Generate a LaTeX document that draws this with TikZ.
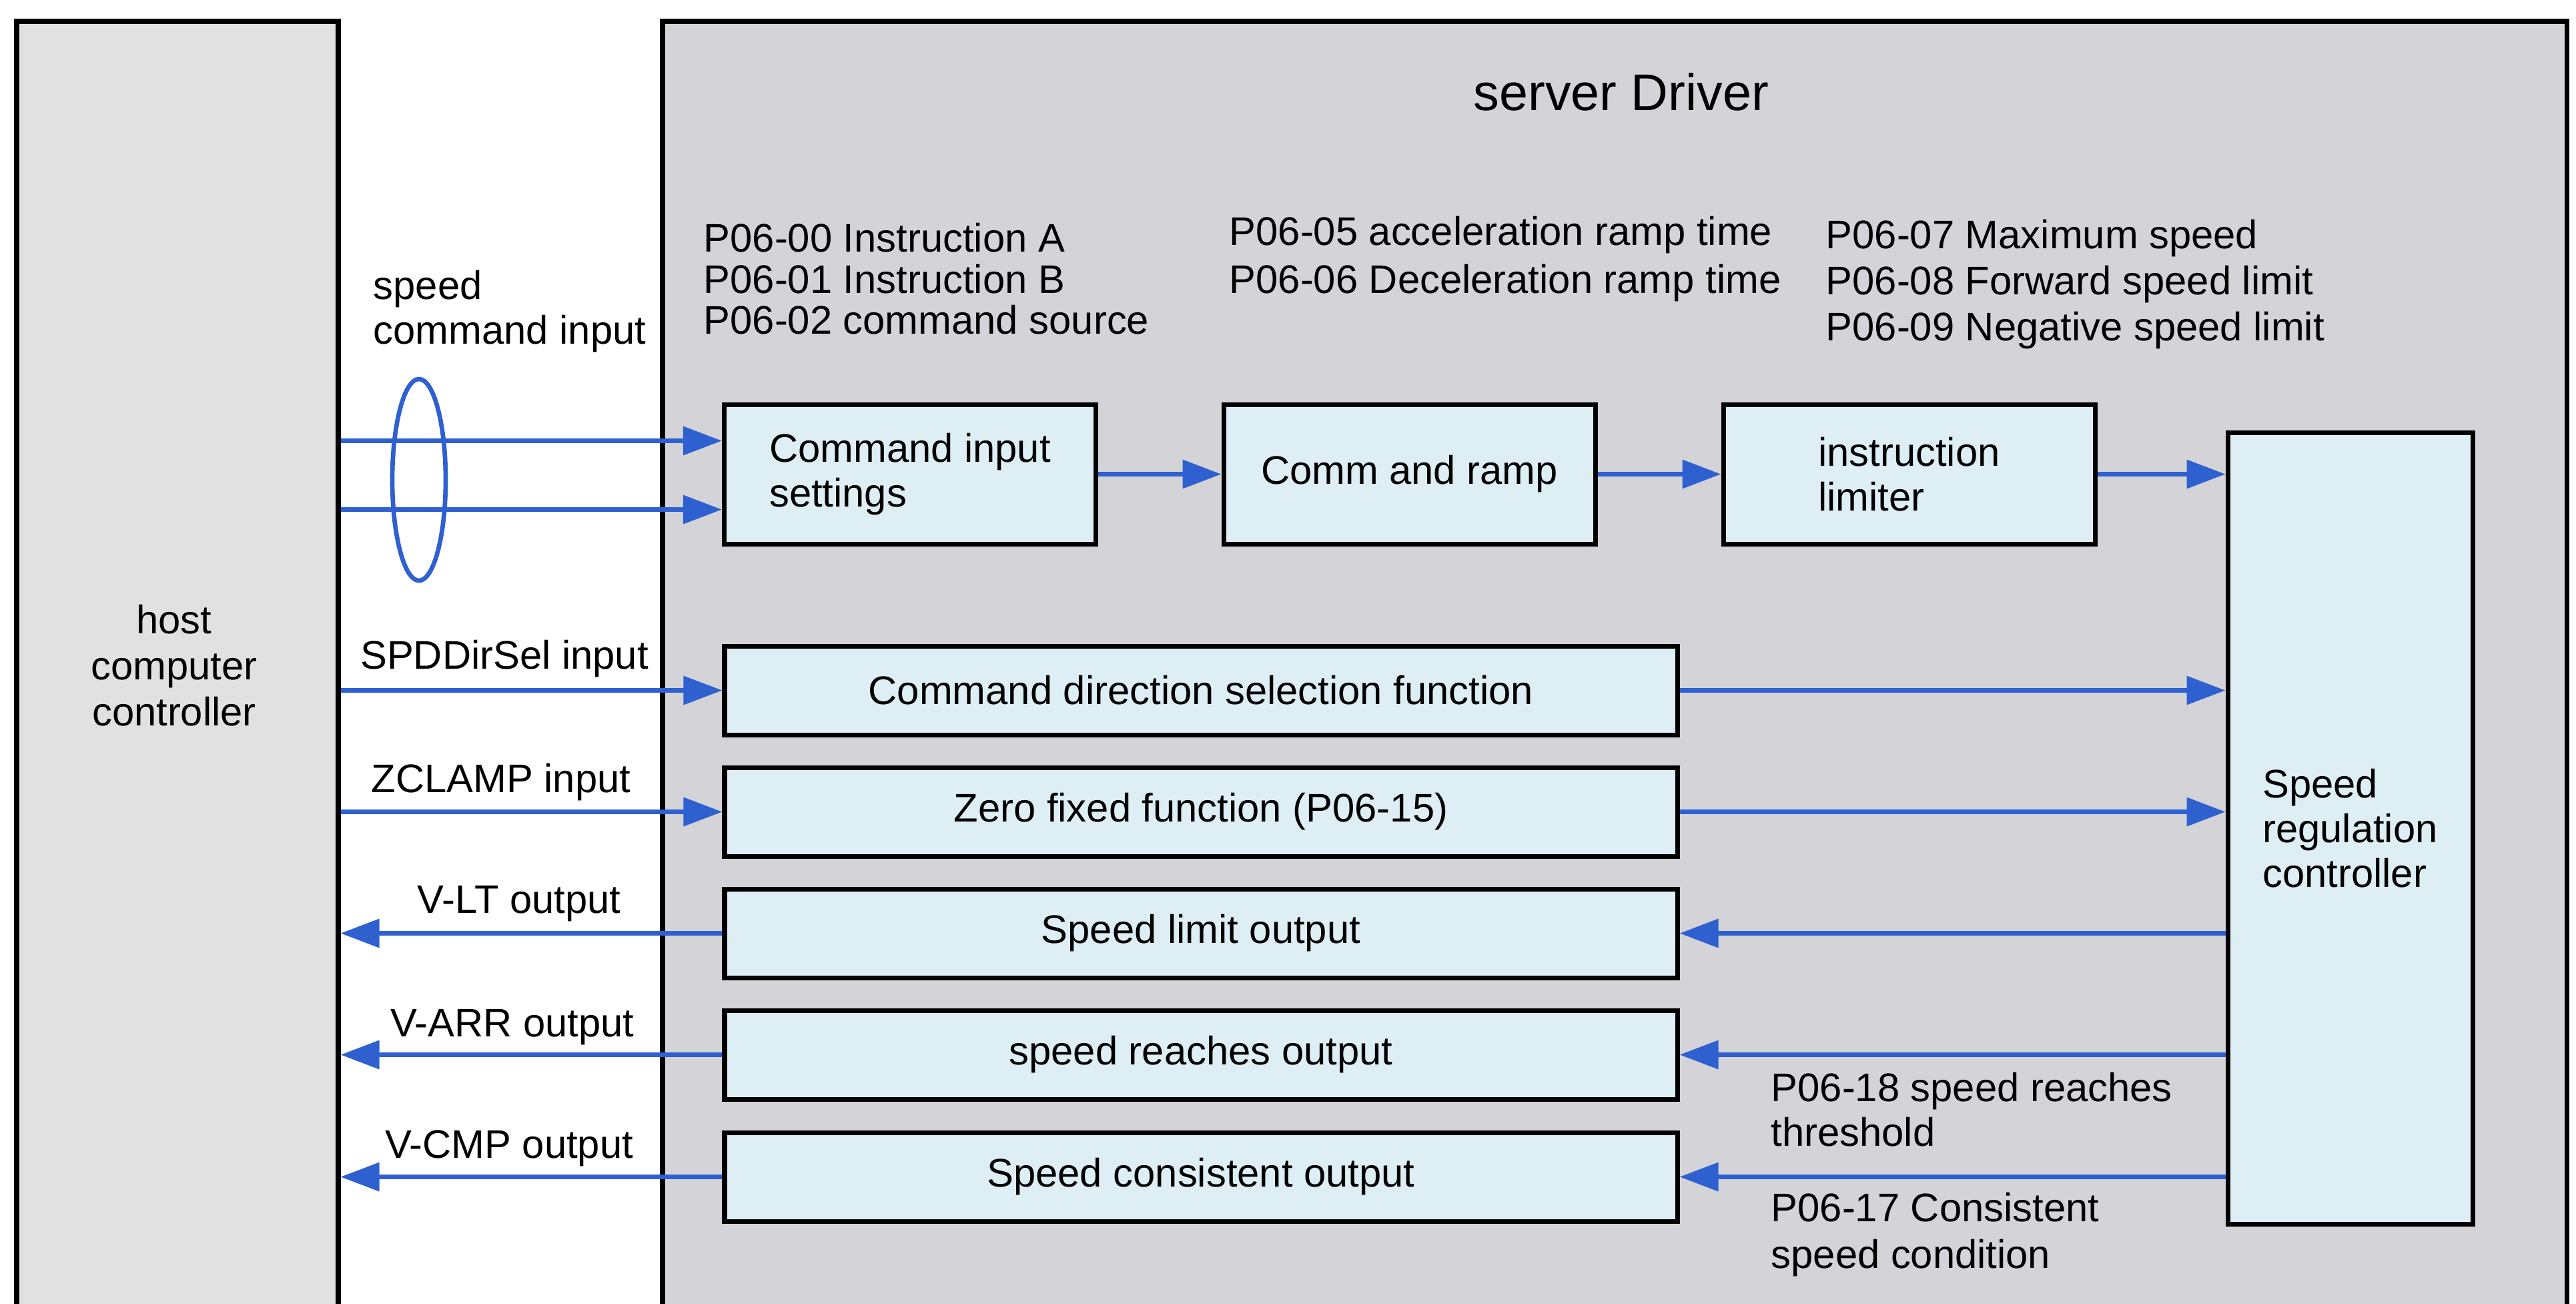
\documentclass[tikz,border=0pt]{standalone}
\usepackage{fontspec}
\setmainfont{Liberation Sans}
\usetikzlibrary{arrows.meta,shapes.geometric}
\definecolor{arrblue}{RGB}{46,96,208}
\definecolor{boxfill}{RGB}{221,238,244}
\definecolor{drvfill}{RGB}{212,212,216}
\definecolor{hostfill}{RGB}{225,225,225}
\begin{document}
\begin{tikzpicture}[
  font=\fontsize{17}{19}\selectfont,
  frame/.style={draw=black, line width=2pt, inner sep=0pt, minimum height=19.7cm},
  blk/.style={draw=black, line width=2pt, fill=boxfill, align=left, inner sep=0pt},
  rowbox/.style={blk, minimum width=14.28cm, minimum height=1.33cm},
  topbox/.style={blk, minimum width=5.57cm, minimum height=2.09cm},
  arr/.style={draw=arrblue, line width=1.9pt, -{Triangle[length=0.58cm,width=0.42cm]}},
  lbl/.style={align=left, inner sep=0pt},
]
\path[use as bounding box] (0,0) rectangle (38.61,-19.53);
\begin{scope}
\clip (0,0) rectangle (38.61,-19.53);
\node[frame, fill=hostfill, minimum width=4.82cm] (host) at (2.66,-10.17) {};
\node[frame, fill=drvfill, minimum width=28.54cm] (drv) at (24.20,-10.17) {};
\end{scope}

\node (title) at (24.30,-1.38) {\fontsize{22}{26}\selectfont server Driver};
\node[align=center, font=\fontsize{17}{19.6}\selectfont] (hostlbl) at (2.61,-9.97) {host\\computer\\controller};

% top chain
\node[topbox] (cis) at (13.64,-7.105) {Command input\\settings};
\node[topbox] (ramp) at (21.125,-7.105) {Comm and ramp};
\node[topbox] (lim) at (28.615,-7.105) {instruction\\limiter};
\node[blk, minimum width=3.67cm, minimum height=11.86cm] (src) at (35.225,-12.41) {Speed\\regulation\\controller};

% rows
\node[rowbox] (dir) at (18.00,-10.345) {Command direction selection function};
\node[rowbox] (zero) at (18.00,-12.165) {Zero fixed function (P06-15)};
\node[rowbox] (vlt) at (18.00,-13.985) {Speed limit output};
\node[rowbox] (varr) at (18.00,-15.805) {speed reaches output};
\node[rowbox] (vcmp) at (18.00,-17.635) {Speed consistent output};

% ellipse
\node[draw=arrblue, line width=1.9pt, ellipse, minimum width=0.8cm, minimum height=3.02cm, inner sep=0pt] (ell) at (6.28,-7.19) {};

% connectors
\coordinate (in1) at ([yshift=0.5cm]cis.west);
\coordinate (in2) at ([yshift=-0.53cm]cis.west);
\draw[arr] (host.east |- in1) -- (in1);
\draw[arr] (host.east |- in2) -- (in2);
\draw[arr] (cis.east) -- (ramp.west);
\draw[arr] (ramp.east) -- (lim.west);
\draw[arr] (lim.east) -- (lim.east -| src.west);
\draw[arr] (host.east |- dir.west) -- (dir.west);
\draw[arr] (host.east |- zero.west) -- (zero.west);
\draw[arr] (dir.east) -- (dir.east -| src.west);
\draw[arr] (zero.east) -- (zero.east -| src.west);
\draw[arr] (src.west |- vlt.east) -- (vlt.east);
\draw[arr] (src.west |- varr.east) -- (varr.east);
\draw[arr] (src.west |- vcmp.east) -- (vcmp.east);
\draw[arr] (vlt.west) -- (vlt.west -| host.east);
\draw[arr] (varr.west) -- (varr.west -| host.east);
\draw[arr] (vcmp.west) -- (vcmp.west -| host.east);

% labels
\node[lbl, anchor=west, font=\fontsize{17}{19}\selectfont] (scilbl) at (5.59,-4.665) {speed\\command input};
\node (spdlbl) at (7.56,-9.87) {SPDDirSel input};
\node (zclbl) at (7.51,-11.72) {ZCLAMP input};
\node (vltlbl) at (7.78,-13.54) {V-LT output};
\node (varrlbl) at (7.68,-15.39) {V-ARR output};
\node (vcmplbl) at (7.63,-17.21) {V-CMP output};

\node[lbl, anchor=west, font=\fontsize{17}{17.5}\selectfont] (g1) at (10.54,-4.18) {P06-00 Instruction A\\P06-01 Instruction B\\P06-02 command source};
\node[lbl, anchor=west, font=\fontsize{17}{20.5}\selectfont] (g2) at (18.42,-3.88) {P06-05 acceleration ramp time\\P06-06 Deceleration ramp time};
\node[lbl, anchor=west, font=\fontsize{17}{19.6}\selectfont] (g3) at (27.36,-4.26) {P06-07 Maximum speed\\P06-08 Forward speed limit\\P06-09 Negative speed limit};
\node[lbl, anchor=west, font=\fontsize{17}{19}\selectfont] (p18) at (26.54,-16.63) {P06-18 speed reaches\\threshold};
\node[lbl, anchor=west, font=\fontsize{17}{20}\selectfont] (p17) at (26.54,-18.50) {P06-17 Consistent\\speed condition};
\end{tikzpicture}
\end{document}
